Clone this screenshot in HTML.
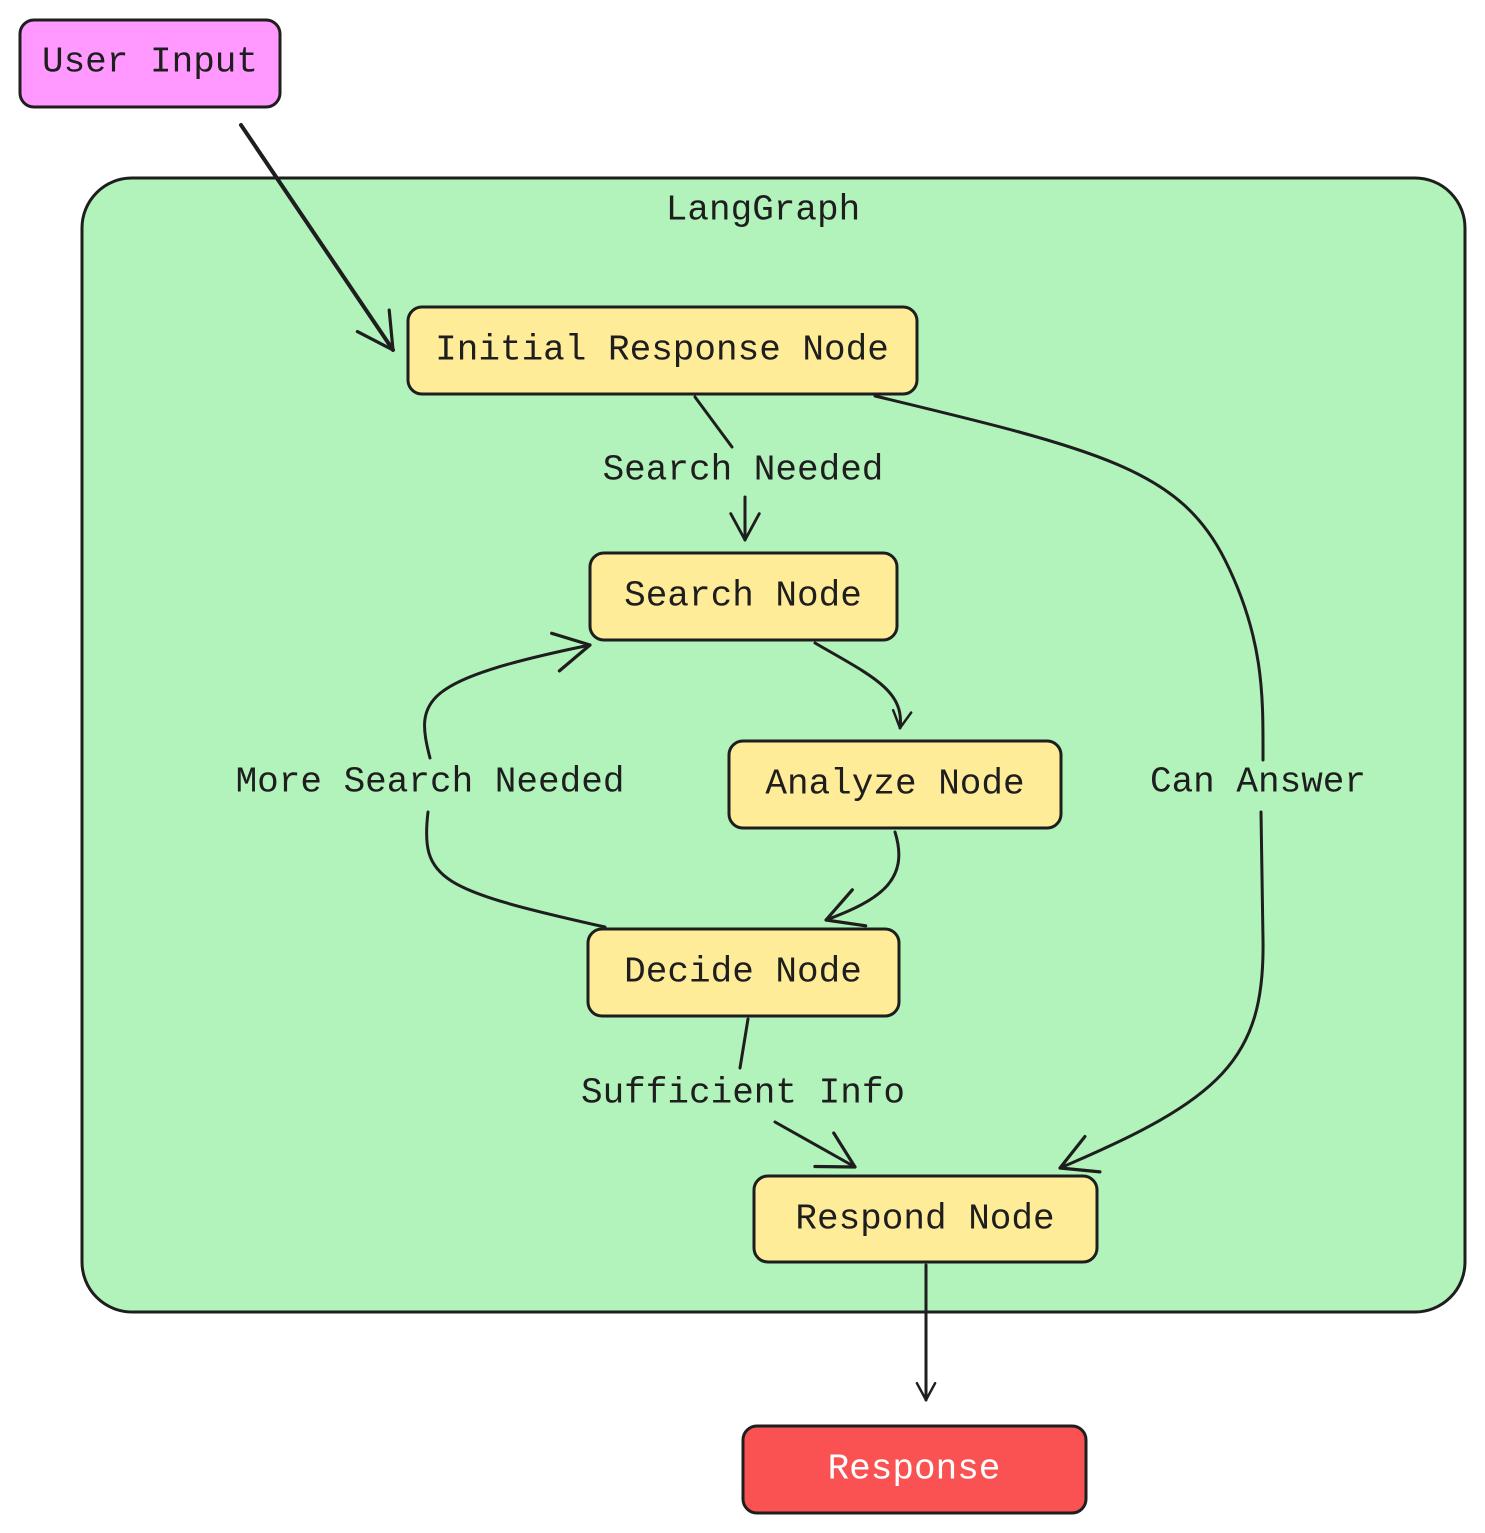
<!DOCTYPE html>
<html><head><meta charset="utf-8"><style>
html,body{margin:0;padding:0;background:#fff;}
svg{display:block;}
text{font-family:"Liberation Mono",monospace;font-size:36px;fill:#1e1e1e;text-anchor:middle;dominant-baseline:central;}
</style></head><body>
<svg width="1485" height="1533" viewBox="0 0 1485 1533" xmlns="http://www.w3.org/2000/svg">
<defs>
<marker id="a" viewBox="0 0 20 20" refX="18" refY="10" markerWidth="22" markerHeight="22" markerUnits="userSpaceOnUse" orient="auto" style="overflow:visible">
<path d="M-6,-3 L18,10 L-6,23" fill="none" stroke="#1e1e1e" stroke-width="2.6" stroke-linecap="round" stroke-linejoin="round"/>
</marker>
<marker id="c" viewBox="0 0 20 20" refX="18" refY="10" markerWidth="14" markerHeight="14" markerUnits="userSpaceOnUse" orient="auto" style="overflow:visible">
<path d="M-6,-3 L18,10 L-6,23" fill="none" stroke="#1e1e1e" stroke-width="3.5" stroke-linecap="round" stroke-linejoin="round"/>
</marker>
<marker id="b" viewBox="0 0 20 20" refX="18" refY="10" markerWidth="32" markerHeight="32" markerUnits="userSpaceOnUse" orient="auto" style="overflow:visible">
<path d="M-4,-2 L18,10 L-4,22" fill="none" stroke="#1e1e1e" stroke-width="2" stroke-linecap="round" stroke-linejoin="round"/>
</marker>
</defs>
<rect x="82" y="178" width="1383" height="1134" rx="50" fill="#b2f2bb" stroke="#1e1e1e" stroke-width="3"/>
<text x="763" y="210">LangGraph</text>
<rect x="20" y="20" width="260" height="87" rx="14" fill="#ff99ff" stroke="#1e1e1e" stroke-width="3"/>
<text x="150" y="62">User Input</text>
<g fill="none" stroke="#1e1e1e" stroke-width="3" stroke-linecap="round">
<path d="M241,125 L393,350" stroke-width="4" marker-end="url(#b)"/>
<path d="M695,397 L732,447"/>
<path d="M745,497 L745,540" marker-end="url(#a)"/>
<path d="M875,396 C1100,450 1180,470 1225,560 C1265,640 1263,700 1263,760"/>
<path d="M1261,812 L1263,940 C1265,1060 1220,1100 1060,1168" marker-end="url(#b)"/>
<path d="M815,643 C870,675 905,690 900,728" marker-end="url(#c)"/>
<path d="M895,832 C910,880 880,900 826,920" marker-end="url(#b)"/>
<path d="M605,927 C440,890 420,880 428,812"/>
<path d="M430,758 C415,700 420,680 590,645" marker-end="url(#b)"/>
<path d="M748,1019 L740,1068"/>
<path d="M775,1122 L855,1167" marker-end="url(#b)"/>
<path d="M926,1265 L926,1400" marker-end="url(#c)"/>
</g>
<text x="743" y="470">Search Needed</text>
<text x="1258" y="782">Can Answer</text>
<text x="430" y="782">More Search Needed</text>
<text x="743" y="1093">Sufficient Info</text>
<g fill="#ffec99" stroke="#1e1e1e" stroke-width="3">
<rect x="408" y="307" width="509" height="87" rx="14"/>
<rect x="590" y="553" width="307" height="87" rx="14"/>
<rect x="729" y="741" width="332" height="87" rx="14"/>
<rect x="588" y="929" width="311" height="87" rx="14"/>
<rect x="754" y="1176" width="343" height="86" rx="14"/>
</g>
<text x="662" y="350">Initial Response Node</text>
<text x="743" y="596">Search Node</text>
<text x="895" y="784">Analyze Node</text>
<text x="743" y="972">Decide Node</text>
<text x="925" y="1219">Respond Node</text>
<rect x="743" y="1426" width="343" height="87" rx="14" fill="#fa5252" stroke="#1e1e1e" stroke-width="3"/>
<text x="914" y="1469" style="fill:#fff">Response</text>
</svg>
</body></html>
